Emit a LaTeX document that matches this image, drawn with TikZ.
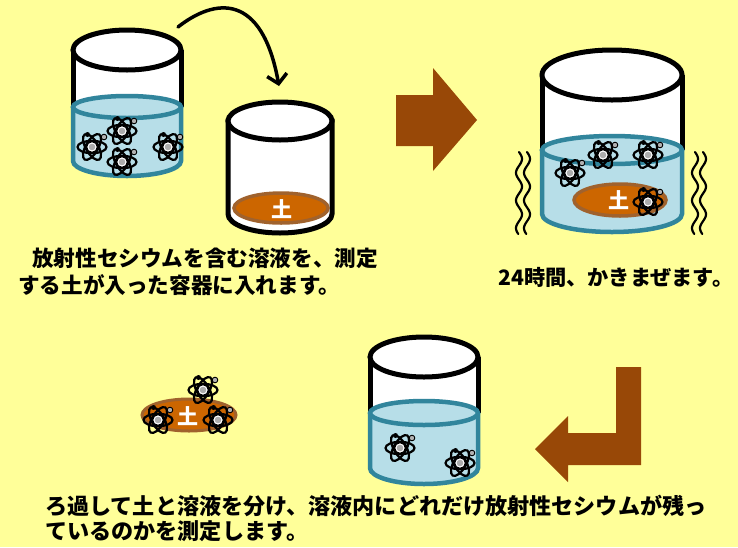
\documentclass[tikz,border=0pt]{standalone}
\usepackage{fontspec}
\newfontfamily\jp{Noto Sans CJK JP}
\usetikzlibrary{arrows.meta}

\definecolor{bgyellow}{HTML}{FFFF99}
\definecolor{waterfill}{HTML}{B7DEE8}
\definecolor{waterline}{HTML}{31859C}
\definecolor{soilfill}{HTML}{CC6600}
\definecolor{soilline}{HTML}{A0622D}
\definecolor{arrowbrown}{HTML}{984807}

\tikzset{
  glass/.style={line width=5pt, draw=black, fill=white},
  glassside/.style={line width=5pt, draw=black},
  waterrim/.style={line width=4.5pt, draw=waterline},
  water/.style={line width=4.5pt, draw=waterline, fill=waterfill},
  soil/.style={line width=3.5pt, draw=soilline, fill=soilfill},
  orbit/.style={line width=2.2pt, draw=black},
  bigarrow/.style={fill=arrowbrown, draw=none},
  pour/.style={line width=3.5pt, line cap=round, -{Straight Barb[length=9pt,width=20pt]}},
  wave/.style={line width=2.2pt, line cap=round},
  caption/.style={font=\jp\bfseries\fontsize{21.6}{26}\selectfont, inner sep=0pt, anchor=west},
  soillabel/.style={font=\jp\bfseries\fontsize{21}{21}\selectfont, text=white, inner sep=0pt},
}

% glass with water: cx, rx, rim cy, rim ry, water cy, water ry, bottom cy, bottom ry
\newcommand\waterjar[8]{%
  \fill[white] ({#1-#2},#3) rectangle ({#1+#2},#5);
  \draw[glassside] ({#1-#2},#3) -- ({#1-#2},#5) ({#1+#2},#3) -- ({#1+#2},#5);
  \draw[glass] (#1,#3) ellipse [x radius=#2pt, y radius=#4pt];
  \fill[waterfill] ({#1-#2},#5) -- ({#1-#2},#7)
    arc[start angle=180, end angle=360, x radius=#2pt, y radius=#8pt] -- ({#1+#2},#5) -- cycle;
  \draw[waterrim] ({#1-#2},#5) -- ({#1-#2},#7)
    arc[start angle=180, end angle=360, x radius=#2pt, y radius=#8pt] -- ({#1+#2},#5);
  \filldraw[water] (#1,#5) ellipse [x radius=#2pt, y radius=#6pt];
}

% empty glass: cx, rx, rim cy, rim ry, bottom cy, bottom ry
\newcommand\emptyjar[6]{%
  \filldraw[glass] ({#1-#2},#3) -- ({#1-#2},#5)
    arc[start angle=180, end angle=360, x radius=#2pt, y radius=#6pt] -- ({#1+#2},#3) -- cycle;
  \draw[glass] (#1,#3) ellipse [x radius=#2pt, y radius=#4pt];
}

% caesium atom symbol centred at (x,y)
\newcommand\atomat[2]{%
  \begin{scope}[shift={(#1,#2)}]
    \foreach \r in {0,60,120}
      \draw[orbit, rotate=\r] (0,0) ellipse [x radius=14.5pt, y radius=6.2pt];
    \fill[black] (-4.5,-12.5) circle[radius=2.5pt];
    \filldraw[fill=white, draw=black, line width=1.4pt] (0,0) circle[radius=5.5pt];
    \fill[gray!65] (0,0) circle[radius=3.3pt];
    \filldraw[fill=gray!60, draw=black, line width=0.9pt] (12,-10) circle[radius=2.8pt];
  \end{scope}}

% shaking marks
\newcommand\waveline[3]{%
  \draw[wave] plot[domain=0:#3, samples=60, smooth] ({#1+3*sin(\x*13)},{#2+\x});}

\begin{document}
\begin{tikzpicture}[x=1pt,y=-1pt]
  \fill[bgyellow] (0,0) rectangle (738,547);
  \useasboundingbox (0,0) rectangle (738,547);

  % step 1: caesium solution
  \waterjar{127}{54}{50}{20}{107}{11}{161}{15}
  \atomat{92}{147}
  \atomat{122}{131}
  \atomat{122}{162}
  \atomat{168}{147}

  % step 1: container with soil
  \emptyjar{280}{52}{121}{19}{214}{19}
  \draw[soil] (281,208) ellipse [x radius=47pt, y radius=15pt];
  \node[soillabel] (soil1) at (282,209) {土};

  % pouring arrow
  \coordinate (pourstart) at (178,27);
  \coordinate (pourend) at (279,86);
  \draw[pour] (pourstart) .. controls (215,-2) and (262,-8) .. (pourend);

  % arrow to step 2
  \fill[bigarrow] (396,95) -- (433,95) -- (433,68) -- (477,120) -- (433,171)
    -- (433,146) -- (396,146) -- cycle;

  % step 2: stirring
  \waveline{519}{152}{82}
  \waveline{527}{152}{82}
  \waveline{695}{152}{82}
  \waveline{703}{152}{82}
  \waterjar{612}{70}{75}{25}{150}{14}{214}{18}
  \draw[soil] (620,200) ellipse [x radius=46pt, y radius=16pt];
  \node[soillabel] (soil2) at (619,200) {土};
  \atomat{570}{173}
  \atomat{603}{155}
  \atomat{648}{155}
  \atomat{648}{202}

  % arrow to step 3
  \fill[bigarrow] (616,367) -- (641,367) -- (641,465) -- (568,465) -- (568,482)
    -- (535,449) -- (568,416) -- (568,433) -- (616,433) -- cycle;

  % step 3: filtered solution
  \waterjar{424}{54}{357}{20}{413}{12}{468}{16}
  \atomat{400}{448}
  \atomat{460}{463}

  % step 3: separated soil
  \draw[soil, line width=3pt] (189,415) ellipse [x radius=47pt, y radius=16pt];
  \node[soillabel] (soil3) at (188,416) {土};
  \atomat{203}{390}
  \atomat{158}{420}
  \atomat{218}{420}

  % captions
  \node[caption] (step1a) at (32,258) {放射性セシウムを含む溶液を、測定};
  \node[caption] (step1b) at (18,285) {する土が入った容器に入れます。};
  \node[caption, font=\jp\bfseries\fontsize{21.2}{24}\selectfont] (step2) at (498,277) {24時間、かきまぜます。};
  \node[caption, font=\jp\bfseries\fontsize{22.1}{26}\selectfont] (step3a) at (45,506) {ろ過して土と溶液を分け、溶液内にどれだけ放射性セシウムが残っ};
  \node[caption, font=\jp\bfseries\fontsize{22.1}{26}\selectfont] (step3b) at (45,531) {ているのかを測定します。};
\end{tikzpicture}
\end{document}
